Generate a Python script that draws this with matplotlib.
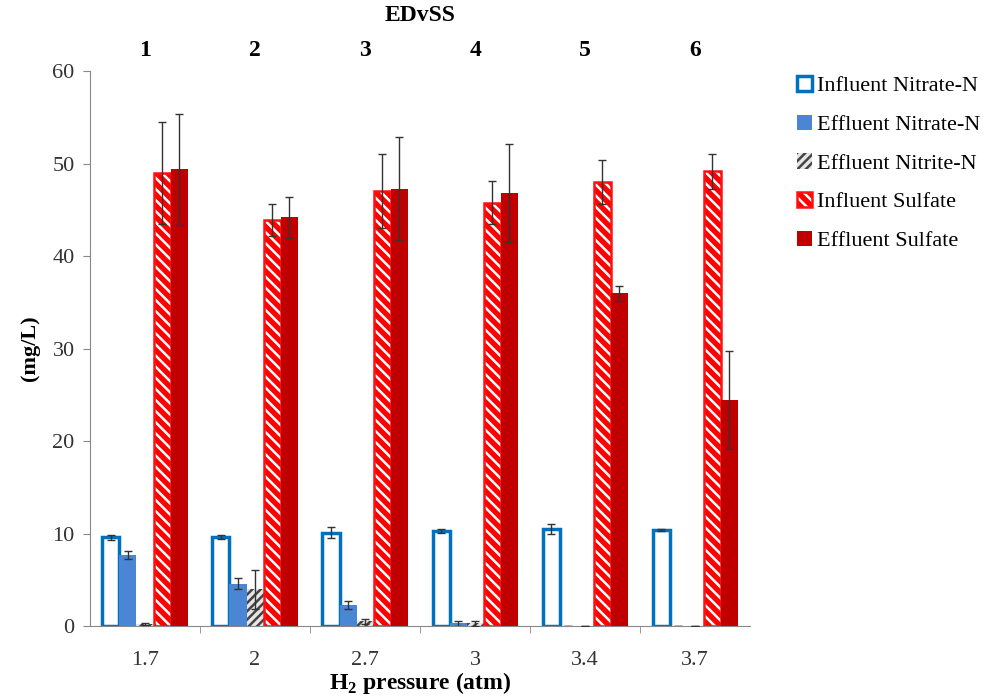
import matplotlib.pyplot as plt
import numpy as np

plt.rcParams['font.family'] = ['Liberation Serif', 'DejaVu Serif']
plt.rcParams['hatch.linewidth'] = 1.8

pressure = ['1.7', '2', '2.7', '3', '3.4', '3.7']
edvss = ['1', '2', '3', '4', '5', '6']

inf_nitrate = [9.6, 9.6, 10.1, 10.3, 10.5, 10.4]
inf_nitrate_err = [0.3, 0.2, 0.6, 0.2, 0.5, 0.1]
eff_nitrate = [7.7, 4.6, 2.3, 0.3, 0.0, 0.0]
eff_nitrate_err = [0.4, 0.6, 0.4, 0.3, 0.0, 0.0]
eff_nitrite = [0.2, 4.0, 0.5, 0.3, 0.0, 0.0]
eff_nitrite_err = [0.1, 2.1, 0.3, 0.3, 0.0, 0.0]
inf_sulfate = [49.0, 43.9, 47.0, 45.8, 48.0, 49.2]
inf_sulfate_err = [5.5, 1.7, 4.0, 2.3, 2.4, 1.9]
eff_sulfate = [49.4, 44.2, 47.3, 46.8, 36.0, 24.5]
eff_sulfate_err = [6.0, 2.2, 5.6, 5.3, 0.8, 5.3]

x = np.arange(len(pressure))
w = 0.155

fig = plt.figure(figsize=(9.93, 6.98), dpi=100)
ax = fig.add_axes([0.0906, 0.103, 0.665, 0.795])

ekw = dict(ecolor='#333333', elinewidth=1.0, capsize=3, capthick=1.0)

h1 = ax.bar(x - 2 * w, inf_nitrate, w, yerr=inf_nitrate_err, facecolor='white',
            edgecolor='#0070C0', linewidth=2.5, error_kw=ekw, zorder=2)
h2 = ax.bar(x - w, eff_nitrate, w, yerr=eff_nitrate_err, color='#4A86D4',
            error_kw=ekw, zorder=2)
h3 = ax.bar(x, eff_nitrite, w, facecolor='#E6E6E6', edgecolor='#444444',
            hatch='////', linewidth=0, zorder=2)
ax.errorbar(x, eff_nitrite, yerr=eff_nitrite_err, fmt='none', zorder=3, **ekw)

# red sulfate bars with white stripes, outlined in red
h4a = ax.bar(x + w, inf_sulfate, w, facecolor='#FF0000', edgecolor='white',
             hatch='\\\\\\', linewidth=0, zorder=2)
h4b = ax.bar(x + w, inf_sulfate, w, fill=False, edgecolor='#FF1010',
             linewidth=1.8, zorder=2)
ax.errorbar(x + w, inf_sulfate, yerr=inf_sulfate_err, fmt='none', zorder=3, **ekw)
h5 = ax.bar(x + 2 * w, eff_sulfate, w, yerr=eff_sulfate_err, color='#C00000',
            error_kw=ekw, zorder=2)

ax.set_xlim(-0.5, len(x) - 0.5)
ax.set_ylim(0, 60)
ax.set_yticks(np.arange(0, 61, 10))

ax.set_xticks(x)
ax.set_xticklabels(pressure)
ax.set_xticks(np.arange(0.5, len(x) - 0.5, 1), minor=True)
ax.tick_params(axis='x', which='major', length=0, pad=18, labelsize=16,
               labelcolor='#333333')
ax.tick_params(axis='x', which='minor', length=5, color='#888888')
ax.tick_params(axis='y', length=5, color='#888888', labelsize=16,
               labelcolor='#333333', pad=6)

for s in ['top', 'right']:
    ax.spines[s].set_visible(False)
for s in ['left', 'bottom']:
    ax.spines[s].set_color('#888888')

ax.set_ylabel('(mg/L)', fontsize=16, fontweight='bold', labelpad=9)
ax.set_xlabel('H$_\\mathregular{2}$ pressure (atm)', fontsize=17,
              fontweight='bold', labelpad=0)

top = ax.secondary_xaxis('top')
top.set_xticks(x)
top.set_xticklabels(edvss, fontweight='bold', fontsize=17)
top.tick_params(length=0, pad=7)
top.spines['top'].set_visible(False)
top.set_xlabel('EDvSS', fontsize=17, fontweight='bold', labelpad=14)

ax.legend([h1, h2, h3, (h4a, h4b), h5],
          ['Influent Nitrate-N', 'Effluent Nitrate-N', 'Effluent Nitrite-N',
           'Influent Sulfate', 'Effluent Sulfate'],
          loc='upper left', bbox_to_anchor=(797 / 993, 1 - 76 / 698),
          bbox_transform=fig.transFigure, frameon=False, borderpad=0,
          borderaxespad=0, fontsize=16, handlelength=0.68, handleheight=0.68,
          handletextpad=0.2, labelspacing=0.82)

fig.savefig('out.png', dpi=100)
